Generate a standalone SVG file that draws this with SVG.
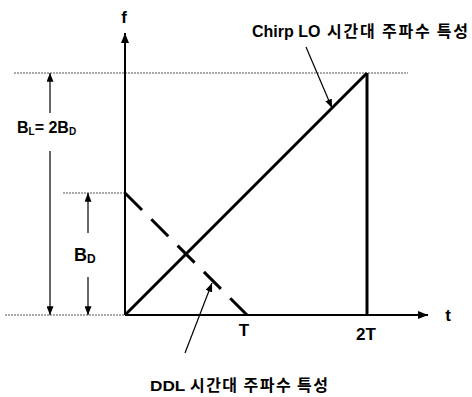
<svg xmlns="http://www.w3.org/2000/svg" width="472" height="397" viewBox="0 0 472 397">
<style>
text{font-family:"Liberation Sans","Noto Sans CJK KR",sans-serif;font-weight:bold;fill:#000}
.ko{font-family:"Noto Sans CJK KR",sans-serif;font-size:16px}
.dot{stroke:#555;stroke-width:1;stroke-dasharray:2 1;fill:none}
.axis{stroke:#000;stroke-width:2;fill:none}
.thick{stroke:#000;stroke-width:3;fill:none}
.thin{stroke:#000;stroke-width:1.2;fill:none}
</style>
<defs>
<marker id="ah" viewBox="0 0 10 8" refX="10" refY="4" markerWidth="10" markerHeight="8" markerUnits="userSpaceOnUse" orient="auto">
<path d="M0,0 L10,4 L0,8 Z" fill="#000"/>
</marker>
<marker id="ahs" viewBox="0 0 10 8" refX="10" refY="4" markerWidth="9" markerHeight="7" markerUnits="userSpaceOnUse" orient="auto">
<path d="M0,0 L10,4 L0,8 Z" fill="#000"/>
</marker>
</defs>
<g id="guides">
<line class="dot" x1="14" y1="73" x2="408" y2="73"/>
<line class="dot" x1="63" y1="193" x2="125" y2="193"/>
<line class="dot" x1="5" y1="315" x2="125" y2="315"/>
</g>
<g id="axes">
<line class="axis" x1="125" y1="315" x2="125" y2="33" marker-end="url(#ah)"/>
<line class="axis" x1="125" y1="315" x2="428" y2="315" marker-end="url(#ah)"/>
<text x="124" y="23" font-size="17" text-anchor="middle">f</text>
<text x="448" y="321" font-size="17" text-anchor="middle">t</text>
<text x="244" y="336" font-size="17" text-anchor="middle">T</text>
<text x="366" y="340" font-size="17" text-anchor="middle">2T</text>
</g>
<g id="chirp">
<line class="thick" x1="125" y1="315" x2="367" y2="73"/>
<line class="thick" x1="367" y1="73" x2="367" y2="315"/>
</g>
<g id="ddl">
<line class="thick" x1="125" y1="193" x2="247" y2="315" stroke-dasharray="24 13.2"/>
</g>
<g id="bl">
<line class="thin" x1="50" y1="113" x2="50" y2="73" marker-end="url(#ahs)"/>
<line class="thin" x1="50" y1="151" x2="50" y2="315" marker-end="url(#ahs)"/>
<text x="17" y="133" font-size="16">B<tspan font-size="10" dy="2">L</tspan><tspan dy="-2">= 2B</tspan><tspan font-size="10" dy="2">D</tspan></text>
</g>
<g id="bd">
<line class="thin" x1="88" y1="233" x2="88" y2="193" marker-end="url(#ahs)"/>
<line class="thin" x1="88" y1="277" x2="88" y2="315" marker-end="url(#ahs)"/>
<text x="74" y="261" font-size="18">B<tspan font-size="12" dy="2">D</tspan></text>
</g>
<g id="labels">
<line class="thin" x1="306" y1="47" x2="332" y2="108" marker-end="url(#ahs)"/>
<text x="252" y="37" font-size="16">Chirp LO <tspan class="ko" x="327" textLength="141" lengthAdjust="spacing">시간대 주파수 특성</tspan></text>
<line class="thin" x1="185" y1="353" x2="212" y2="283" marker-end="url(#ahs)"/>
<text x="150" y="391" font-size="15"><tspan textLength="35" lengthAdjust="spacingAndGlyphs">DDL</tspan> <tspan class="ko" x="190" textLength="138" lengthAdjust="spacing">시간대 주파수 특성</tspan></text>
</g>
</svg>
